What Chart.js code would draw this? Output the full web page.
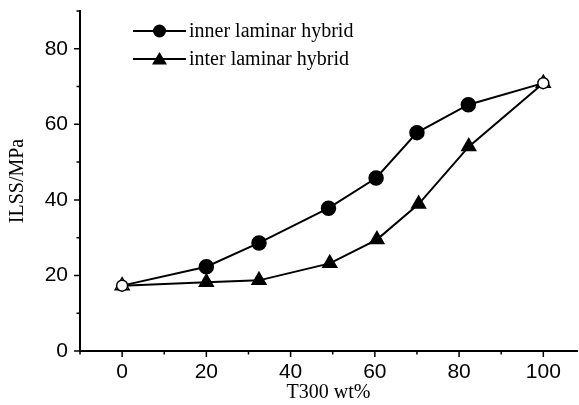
<!DOCTYPE html>
<html lang="en">
<head>
    <meta charset="UTF-8">
    <title>ILSS vs T300 wt%</title>
    <style>
        html, body { margin: 0; padding: 0; background: #fff; }
        #wrap { width: 579px; height: 405px; }
    </style>
</head>
<body>
<div id="wrap"><canvas id="myChart"></canvas></div>
<script src="https://cdn.jsdelivr.net/npm/chart.js"></script>
<script>
    // data
    const innerX = [0, 20, 32.5, 49, 60.3, 70, 82.2, 100];
    const innerY = [17.3, 22.3, 28.6, 37.8, 45.8, 57.8, 65.2, 70.9];
    const interX = [0, 20, 32.5, 49.3, 60.5, 70.4, 82.3, 100];
    const interY = [17.3, 18.2, 18.7, 23.2, 29.5, 38.9, 54.1, 70.9];
    const xTicks = [0, 20, 40, 60, 80, 100];
    const yTicks = [0, 20, 40, 60, 80];
    const xMinor = [-10, 10, 30, 50, 70, 90];
    const yMinor = [10, 30, 50, 70, 90];
    const labels = ['inner laminar hybrid', 'inter laminar hybrid'];

    function pts(xs, ys) {
        return xs.map((x, i) => ({ x: x, y: ys[i] }));
    }
    // first and last points are open (shared by both series)
    function isEnd(i, n) { return i === 0 || i === n - 1; }
    function fills(n) {
        return Array.from({ length: n }, (_, i) => isEnd(i, n) ? '#fff' : '#000');
    }

    const tickPlugin = {
        id: 'axisTicks',
        afterDraw(chart) {
            const ctx = chart.ctx;
            const xs = chart.scales.x, ys = chart.scales.y;
            const bottom = chart.chartArea.bottom, left = chart.chartArea.left;
            ctx.save();
            ctx.strokeStyle = '#000';
            ctx.lineWidth = 1.5;
            ctx.beginPath();
            xTicks.forEach(v => { const p = xs.getPixelForValue(v); ctx.moveTo(p, bottom); ctx.lineTo(p, bottom + 6); });
            xMinor.forEach(v => { const p = xs.getPixelForValue(v); ctx.moveTo(p, bottom); ctx.lineTo(p, bottom + 3.5); });
            yTicks.forEach(v => { const p = ys.getPixelForValue(v); ctx.moveTo(left, p); ctx.lineTo(left - 6, p); });
            yMinor.forEach(v => { const p = ys.getPixelForValue(v); ctx.moveTo(left, p); ctx.lineTo(left - 3.5, p); });
            ctx.stroke();

            // legend: line - marker - line, serif text
            ctx.font = '20px "Liberation Serif"';
            ctx.fillStyle = '#000';
            ctx.textBaseline = 'middle';
            const rows = [31, 59];
            rows.forEach((y, i) => {
                ctx.beginPath();
                ctx.lineWidth = 2;
                ctx.moveTo(133, y); ctx.lineTo(186, y);
                ctx.stroke();
                ctx.beginPath();
                if (i === 0) {
                    ctx.arc(159.5, y, 6.5, 0, Math.PI * 2);
                } else {
                    ctx.moveTo(159.5, y - 7); ctx.lineTo(167, y + 5.5); ctx.lineTo(152, y + 5.5); ctx.closePath();
                }
                ctx.fill();
                ctx.fillText(labels[i], 189, y + 1);
            });
            ctx.restore();
        }
    };

    new Chart(document.getElementById('myChart'), {
        type: 'line',
        data: {
            datasets: [{
                label: labels[0],
                data: pts(innerX, innerY),
                borderColor: '#000',
                borderWidth: 2,
                pointStyle: 'circle',
                pointRadius: c => isEnd(c.dataIndex, innerX.length) ? 5.5 : 7,
                pointBackgroundColor: fills(innerX.length),
                pointBorderColor: '#000',
                pointBorderWidth: 1.5
            }, {
                label: labels[1],
                data: pts(interX, interY),
                borderColor: '#000',
                borderWidth: 2,
                pointStyle: 'triangle',
                pointRadius: 8,
                pointBackgroundColor: fills(interX.length),
                pointBorderColor: '#000',
                pointBorderWidth: 1.5
            }]
        },
        options: {
            responsive: true,
            maintainAspectRatio: false,
            animation: false,
            layout: { autoPadding: false, padding: { top: 11, right: 2, left: 0, bottom: 0 } },
            plugins: { legend: { display: false }, tooltip: { enabled: false } },
            scales: {
                x: {
                    type: 'linear',
                    min: -10,
                    max: 108,
                    afterBuildTicks: s => { s.ticks = xTicks.map(v => ({ value: v })); },
                    afterFit: s => { s.height = 54; s.paddingLeft = 0; s.paddingRight = 0; },
                    grid: { display: false, drawTicks: false },
                    border: { color: '#000', width: 2 },
                    ticks: { color: '#000', padding: 9, maxRotation: 0, font: { family: '"Liberation Sans"', size: 21 } },
                    title: { display: true, text: 'T300 wt%', color: '#000', padding: { top: 2, bottom: 0 }, font: { family: '"Liberation Serif"', size: 20 } }
                },
                y: {
                    min: 0,
                    max: 90,
                    afterBuildTicks: s => { s.ticks = yTicks.map(v => ({ value: v })); },
                    afterFit: s => { s.width = 80; s.paddingTop = 0; s.paddingBottom = 0; },
                    grid: { display: false, drawTicks: false },
                    border: { color: '#000', width: 2 },
                    ticks: { color: '#000', padding: 12, font: { family: '"Liberation Sans"', size: 21 } },
                    title: { display: true, text: 'ILSS/MPa', color: '#000', padding: { top: 6, bottom: 0 }, font: { family: '"Liberation Serif"', size: 20 } }
                }
            }
        },
        plugins: [tickPlugin]
    });
</script>
</body>
</html>
